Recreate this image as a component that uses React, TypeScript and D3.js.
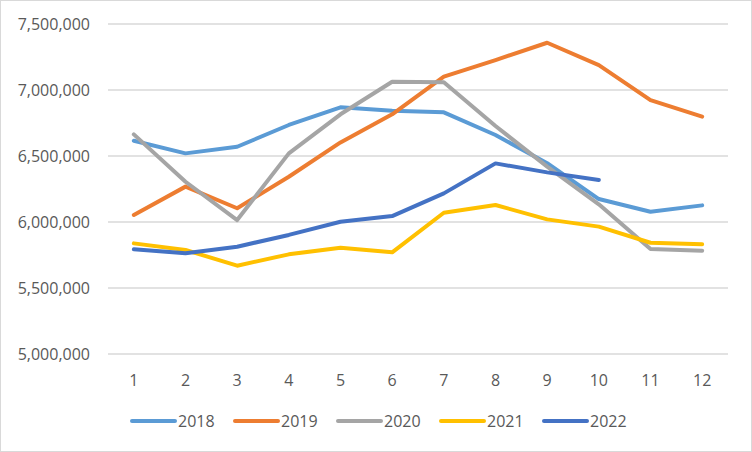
import * as React from 'react';
import * as d3 from 'd3';

const months = ['1', '2', '3', '4', '5', '6', '7', '8', '9', '10', '11', '12'];
const yTicks = [5000000, 5500000, 6000000, 6500000, 7000000, 7500000];

const v2018 = [6616000, 6520000, 6570000, 6735000, 6869000, 6843000, 6831000, 6659000, 6445000, 6174000, 6078000, 6126000];
const v2019 = [6053000, 6268000, 6104000, 6343000, 6603000, 6816000, 7101000, 7227000, 7358000, 7189000, 6924000, 6798000];
const v2020 = [6664000, 6305000, 6015000, 6520000, 6816000, 7063000, 7058000, 6727000, 6420000, 6134000, 5795000, 5783000];
const v2021 = [5838000, 5788000, 5669000, 5755000, 5805000, 5770000, 6070000, 6129000, 6020000, 5965000, 5843000, 5831000];
const v2022 = [5793000, 5763000, 5813000, 5902000, 6002000, 6045000, 6217000, 6444000, 6376000, 6318000];

const seriesNames = ['2018', '2019', '2020', '2021', '2022'];
const seriesValues = [v2018, v2019, v2020, v2021, v2022];
const colors = ['#5B9BD5', '#ED7D31', '#A5A5A5', '#FFC000', '#4472C4'];

class LineChart extends React.Component {
  private element;

  componentDidMount() {
    this.draw();
  }

  draw() {
    const W = 752;
    const H = 452;
    const margin = { top: 24, right: 24, bottom: 98, left: 108 };
    const width = W - margin.left - margin.right;
    const height = H - margin.top - margin.bottom;
    const font = '"Open Sans", "DejaVu Sans", sans-serif';

    const svg = d3.select(this.element).attr('width', W).attr('height', H);
    svg.selectAll('*').remove();

    svg.append('rect')
      .attr('x', 0.5).attr('y', 0.5)
      .attr('width', W - 1).attr('height', H - 1)
      .attr('fill', '#fff')
      .attr('stroke', '#d9d9d9');

    const g = svg.append('g').attr('transform', `translate(${margin.left}, ${margin.top})`);

    const x = d3.scaleBand().domain(months).range([0, width]);
    const y = d3.scaleLinear().domain([5000000, 7500000]).range([height, 0]);
    const fmt = d3.format(',');

    // gridlines
    g.append('g')
      .selectAll('line')
      .data(yTicks)
      .enter()
      .append('line')
      .attr('x1', 0).attr('x2', width)
      .attr('y1', d => y(d)).attr('y2', d => y(d))
      .attr('stroke', '#d9d9d9')
      .attr('stroke-width', 1.3);

    // y labels
    g.append('g')
      .selectAll('text')
      .data(yTicks)
      .enter()
      .append('text')
      .attr('x', -18)
      .attr('y', d => y(d))
      .attr('dy', '0.35em')
      .attr('text-anchor', 'end')
      .attr('font-family', font)
      .attr('font-size', '16px')
      .attr('fill', '#595959')
      .text(d => fmt(d));

    // x labels
    g.append('g')
      .selectAll('text')
      .data(months)
      .enter()
      .append('text')
      .attr('x', d => x(d) + x.bandwidth() / 2)
      .attr('y', height + 26)
      .attr('dy', '0.35em')
      .attr('text-anchor', 'middle')
      .attr('font-family', font)
      .attr('font-size', '16px')
      .attr('fill', '#595959')
      .text(d => d);

    const line = d3.line<number>()
      .x((d, i) => x(months[i]) + x.bandwidth() / 2)
      .y(d => y(d));

    seriesValues.forEach((vals, i) => {
      g.append('path')
        .datum(vals)
        .attr('fill', 'none')
        .attr('stroke', colors[i])
        .attr('stroke-width', 4)
        .attr('stroke-linejoin', 'round')
        .attr('stroke-linecap', 'round')
        .attr('d', line);
    });

    // legend
    const legend = svg.append('g').attr('transform', 'translate(131, 421)');
    seriesNames.forEach((name, i) => {
      const item = legend.append('g').attr('transform', `translate(${i * 103}, 0)`);
      item.append('line')
        .attr('x1', 1).attr('x2', 44)
        .attr('y1', 0).attr('y2', 0)
        .attr('stroke', colors[i])
        .attr('stroke-width', 4)
        .attr('stroke-linecap', 'round');
      item.append('text')
        .attr('x', 47)
        .attr('y', 0)
        .attr('dy', '0.35em')
        .attr('font-family', font)
        .attr('font-size', '16px')
        .attr('fill', '#595959')
        .text(name);
    });
  }

  render() {
    return (
      <svg
        ref={(ref) => (this.element = ref)}
        style={{ position: 'absolute', left: 0, top: 0, display: 'block' }}
      />
    );
  }
}

export default function App() {
  return <LineChart />;
}
